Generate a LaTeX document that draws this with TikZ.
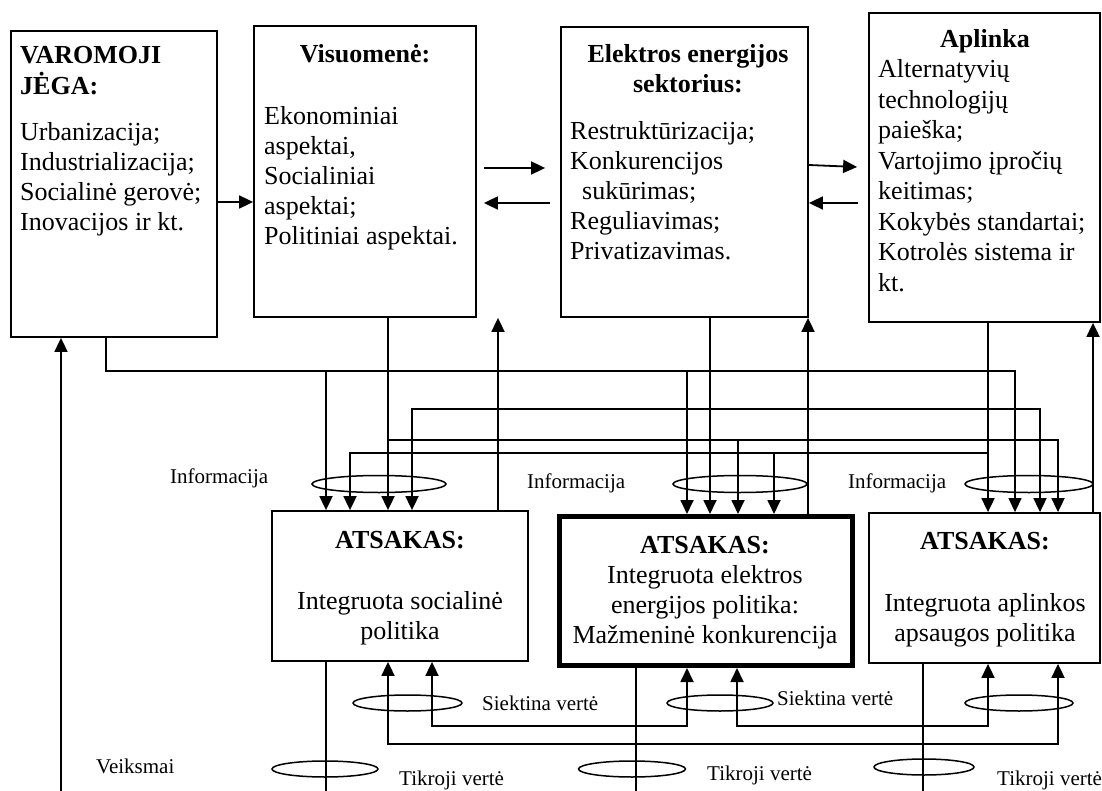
\documentclass[tikz,border=0pt]{standalone}
\usepackage{fontspec}
\setmainfont{Liberation Serif}
\usetikzlibrary{arrows.meta,calc}
\begin{document}
\begin{tikzpicture}[x=1pt,y=-1pt,
  box/.style={draw,line width=1.8pt,rectangle,inner sep=0pt},
  body/.style={font=\fontsize{26}{30}\selectfont,inner sep=0pt,align=left},
  head/.style={font=\fontsize{26}{31}\selectfont\bfseries,inner sep=0pt},
  small/.style={font=\fontsize{21}{24}\selectfont,inner sep=0pt},
  arr/.style={line width=1.8pt,-{Triangle[width=13pt,length=14pt]}},
  darr/.style={line width=1.8pt,{Triangle[width=13pt,length=14pt]}-{Triangle[width=13pt,length=14pt]}},
  thinw/.style={line width=1.2pt},
  ell/.style={line width=1.5pt}]
\useasboundingbox (0,0) rectangle (1102,791);

% top boxes
\node[box,minimum width=206pt,minimum height=306pt] (V) at (114,184) {};
\node[box,minimum width=222pt,minimum height=291pt] (S) at (365,171.5) {};
\node[box,minimum width=247pt,minimum height=290pt] (E) at (684.5,172) {};
\node[box,minimum width=231pt,minimum height=309pt] (A) at (984.5,167.5) {};
% bottom boxes
\node[box,minimum width=256pt,minimum height=150pt] (SA) at (400,586) {};
\node[box,line width=5pt,minimum width=293pt,minimum height=149pt] (EA) at (705.5,591) {};
\node[box,minimum width=231pt,minimum height=150pt] (AA) at (984.5,588) {};

% texts top (base anchor = baseline of the last line)
\node[head,align=left,anchor=base west] (Vh) at (20,95) {VAROMOJI\\JĖGA:};
\node[body,anchor=base west] (Vb) at (20,231) {Urbanizacija;\\Industrializacija;\\Socialinė gerovė;\\Inovacijos ir kt.};
\node[head,anchor=base] (Sh) at (365,63) {Visuomenė:};
\node[body,anchor=base west] (Sb) at (264,245) {Ekonominiai\\aspektai,\\Socialiniai\\aspektai;\\Politiniai aspektai.};
\node[head,align=center,anchor=base,font=\fontsize{26}{30}\selectfont\bfseries] (Eh) at (688,93) {Elektros energijos\\sektorius:};
\node[body,anchor=base west] (Eb) at (570,260) {Restruktūrizacija;\\Konkurencijos\\\hspace*{12pt}sukūrimas;\\Reguliavimas;\\Privatizavimas.};
\node[head,anchor=base] (Ah) at (985,48) {Aplinka};
\node[body,anchor=base west,font=\fontsize{26}{30.5}\selectfont] (Ab) at (878,291.5) {Alternatyvių\\technologijų\\paieška;\\Vartojimo įpročių\\keitimas;\\Kokybės standartai;\\Kotrolės sistema ir\\kt.};

% texts bottom boxes
\node[head,anchor=base] (SAh) at (400,548) {ATSAKAS:};
\node[body,align=center,anchor=base] (SAb) at (400,639) {Integruota socialinė\\politika};
\node[head,anchor=base] (EAh) at (705,553) {ATSAKAS:};
\node[body,align=center,anchor=base] (EAb) at (705,643) {Integruota elektros\\energijos politika:\\Mažmeninė konkurencija};
\node[head,anchor=base] (AAh) at (985,549) {ATSAKAS:};
\node[body,align=center,anchor=base] (AAb) at (985,641) {Integruota aplinkos\\apsaugos politika};

% small labels
\node[small,anchor=base west] (i1) at (170,483) {Informacija};
\node[small,anchor=base west] (i2) at (527,488) {Informacija};
\node[small,anchor=base west] (i3) at (848,488) {Informacija};
\node[small,anchor=base west] (s1) at (482,710) {Siektina vertė};
\node[small,anchor=base west] (s2) at (777,705) {Siektina vertė};
\node[small,anchor=base west] (t1) at (399,785) {Tikroji vertė};
\node[small,anchor=base west] (t2) at (707,780) {Tikroji vertė};
\node[small,anchor=base west] (t3) at (997,785) {Tikroji vertė};
\node[small,anchor=base west] (vk) at (96,773) {Veiksmai};

% column / row coordinates
\foreach \n/\x in {61/61,106/106,326/326,350/350,388/388,412/412,432/432,498/498,636/636,687/687,710/710,737/737,738/738,774/774,808/808,923/923,988/988,1015/1015,1040/1040,1058/1058,1093/1093}
  \coordinate (c\n) at (\x,0);
\foreach \n/\y in {371/371,409/409,440/440,453/453,726/726,744/744,791/791}
  \coordinate (r\n) at (0,\y);

% horizontal arrows between top boxes
\coordinate (h202) at (0,202);
\coordinate (h168) at (0,168);
\coordinate (h203) at (0,203);
\coordinate (h165) at (0,165);
\draw[arr] (V.east |- h202) -- (S.west |- h202);
\draw[arr] ($(S.east |- h168)+(7,0)$) -- ($(E.west |- h168)+(-15,0)$);
\draw[arr] ($(E.west |- h203)+(-10,0)$) -- ($(S.east |- h203)+(7,0)$);
\draw[arr] (E.east |- h165) -- ($(A.west |- h165)+(-11,2)$);
\draw[arr] ($(A.west |- h203)+(-10,0)$) -- (E.east |- h203);

% V output
\draw[arr,line width=1.3pt] (V.south -| c106) |- (r371 -| c1015) -- (AA.north -| c1015);
\draw[arr] (r371 -| c326) -- (SA.north -| c326);
\draw[arr] (r371 -| c687) -- (EA.north -| c687);
% S output
\draw[arr] (S.south -| c388) -- (SA.north -| c388);
\draw[arr] (r440 -| c388) -| (AA.north -| c1058);
\draw[arr] (r440 -| c738) -- (EA.north -| c738);
% E output
\draw[arr] (E.south -| c710) -- (EA.north -| c710);
\draw[arr] (r409 -| c710) -| (AA.north -| c1040);
\draw[arr] (r409 -| c710) -| (SA.north -| c412);
% A output
\draw[arr] (A.south -| c988) -- (AA.north -| c988);
\draw[arr] (r453 -| c988) -| (SA.north -| c350);
\draw[arr] (r453 -| c774) -- (EA.north -| c774);
% feedback up
\draw[arr] (SA.north -| c498) -- (S.south -| c498);
\draw[arr] (EA.north -| c808) -- (E.south -| c808);
\draw[arr] (AA.north -| c1093) -- (A.south -| c1093);
\draw[arr] (r791 -| c61) -- (V.south -| c61);

% actions down
\draw[thinw] (SA.south -| c326) -- (r791 -| c326);
\draw[thinw] (EA.south -| c636) -- (r791 -| c636);
\draw[thinw] (AA.south -| c923) -- (r791 -| c923);

% target values
\draw[darr] (SA.south -| c432) |- (r726 -| c687) -- (EA.south -| c687);
\draw[darr] (EA.south -| c737) |- (r726 -| c988) -- (AA.south -| c988);
\draw[darr] (SA.south -| c388) |- (r744 -| c1058) -- (AA.south -| c1058);

% ellipses
\draw[ell] (379,484) ellipse [x radius=67pt,y radius=8.5pt];
\draw[ell] (740,484) ellipse [x radius=67pt,y radius=8.5pt];
\draw[ell] (1029,484) ellipse [x radius=64pt,y radius=8.5pt];
\draw[ell] (407.5,703) ellipse [x radius=54.5pt,y radius=8pt];
\draw[ell] (720,703) ellipse [x radius=53pt,y radius=8pt];
\draw[ell] (1019,703) ellipse [x radius=54pt,y radius=8pt];
\draw[ell] (325,769) ellipse [x radius=53pt,y radius=8pt];
\draw[ell] (632,769) ellipse [x radius=53.5pt,y radius=8pt];
\draw[ell] (924,767) ellipse [x radius=50pt,y radius=8pt];
\end{tikzpicture}
\end{document}
